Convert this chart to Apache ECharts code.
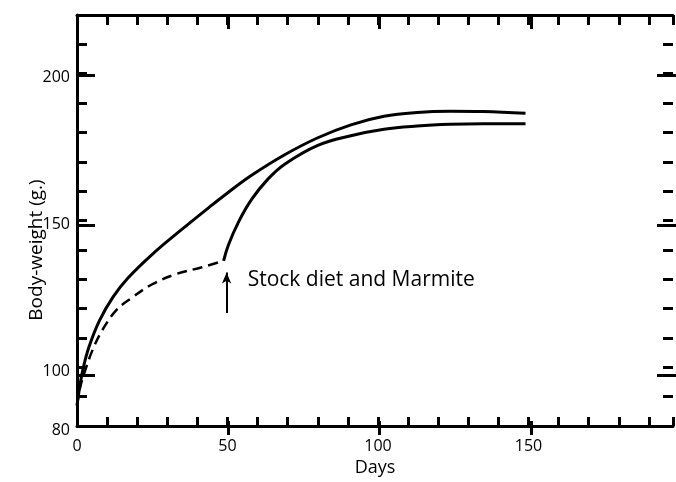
<!DOCTYPE html>
<html><head><meta charset="utf-8">
<script src="https://cdn.jsdelivr.net/npm/echarts@6/dist/echarts.min.js"></script>
<style>html,body{margin:0;padding:0;background:#fff}#c{width:676px;height:482px}</style>
</head><body><div id="c"></div>
<script>
// Control diet (solid, upper curve)
const upperDays   = [0, 1, 2, 4, 7.5, 12, 17, 25, 34, 44, 50, 58, 69, 80, 91, 102, 113, 124, 135, 149];
const upperWeight = [87, 94, 99.5, 107, 116, 124, 130.5, 138.5, 146.3, 154.6, 159.4, 165.4, 172.4, 178.2, 182.6, 185.5, 186.8, 187.2, 187.1, 186.5];
// Deficient diet (dashed) up to day ~49
const dashDays    = [0, 1, 2.5, 5.2, 8.5, 13, 18.5, 25, 32.7, 41.5, 48.7];
const dashWeight  = [87, 93, 98.3, 106, 112.8, 119.4, 123.9, 128.3, 131.7, 134.1, 136.3];
// After change to stock diet and Marmite (solid, lower curve)
const lowerDays   = [48.7, 50.3, 53.6, 58, 63.5, 69, 80, 91, 102, 113, 124, 135, 149];
const lowerWeight = [136.3, 141.7, 149.4, 157.2, 164.2, 169.2, 175.6, 178.9, 181.1, 182.2, 182.8, 183, 183];

const xLabelValues = [0, 50, 100, 150];
const yLabelValues = [80, 100, 150, 200];
const xMajorTicks  = [50, 100, 150];
const yMajorTicks  = [100, 150, 200];

const noteText = 'Stock diet and Marmite';
const arrowDay = 49.7, arrowFrom = 118.5, arrowTo = 132.3;
const noteDay = 56.7, noteWeight = 129.7;

const FONT = '"Open Sans", "DejaVu Sans", sans-serif';
const BLACK = '#000';
const zip = (a, b) => a.map((v, i) => [v, b[i]]);

const gridRect = { left: 77, right: -2, top: 15, bottom: 47 };
const lineAxis = { show: true, onZero: false, lineStyle: { color: BLACK, width: 3 } };
const noLine = { show: false, onZero: false };
const tick = (len, extra) => Object.assign({ show: true, inside: true, length: len, lineStyle: { color: BLACK, width: 3 } }, extra || {});
const lblStyle = { color: BLACK, fontSize: 16, fontWeight: 500, fontFamily: FONT };

const option = {
  animation: false,
  backgroundColor: '#fff',
  grid: [Object.assign({}, gridRect), Object.assign({}, gridRect)],
  xAxis: [
    { gridIndex: 0, type: 'value', position: 'bottom', min: 0, max: 198, interval: 10,
      axisLine: lineAxis, axisTick: tick(9), splitLine: { show: false },
      axisLabel: Object.assign({ margin: 12, formatter: v => xLabelValues.includes(v) ? String(v) : '' }, lblStyle),
      name: 'Days', nameLocation: 'middle', nameGap: 26,
      nameTextStyle: { color: BLACK, fontSize: 18, fontWeight: 500, fontFamily: FONT } },
    { gridIndex: 0, type: 'value', position: 'top', min: 0, max: 198, interval: 10,
      axisLine: lineAxis, axisTick: tick(10), splitLine: { show: false }, axisLabel: { show: false } },
    { gridIndex: 1, type: 'value', position: 'bottom', min: 0, max: 198,
      axisLine: noLine, axisTick: tick(14, { customValues: xMajorTicks }), splitLine: { show: false }, axisLabel: { show: false } },
    { gridIndex: 1, type: 'value', position: 'top', min: 0, max: 198,
      axisLine: noLine, axisTick: tick(14, { customValues: xMajorTicks }), splitLine: { show: false }, axisLabel: { show: false } }
  ],
  yAxis: [
    { gridIndex: 0, type: 'value', position: 'left', min: 80, max: 220, interval: 10,
      axisLine: lineAxis, axisTick: tick(10), splitLine: { show: false },
      axisLabel: Object.assign({ margin: 7, verticalAlign: 'top', lineHeight: 8, formatter: v => yLabelValues.includes(v) ? String(v) : '' }, lblStyle) },
    { gridIndex: 0, type: 'value', position: 'right', min: 80, max: 220, interval: 10,
      axisLine: noLine, axisTick: tick(10), splitLine: { show: false }, axisLabel: { show: false } },
    { gridIndex: 1, type: 'value', position: 'left', min: 80, max: 220,
      axisLine: noLine, axisTick: tick(18, { customValues: yMajorTicks }), splitLine: { show: false }, axisLabel: { show: false } },
    { gridIndex: 1, type: 'value', position: 'right', min: 80, max: 220,
      axisLine: noLine, axisTick: tick(19, { customValues: yMajorTicks }), splitLine: { show: false }, axisLabel: { show: false } }
  ],
  graphic: [
    { type: 'text', x: 37, y: 250, rotation: Math.PI / 2,
      style: { text: 'Body-weight (g.)', font: '500 19px ' + FONT, fill: BLACK, align: 'center', verticalAlign: 'middle' } }
  ],
  series: [
    { type: 'line', xAxisIndex: 0, yAxisIndex: 0, data: zip(upperDays, upperWeight),
      showSymbol: false, smooth: 0.4, lineStyle: { color: BLACK, width: 3 } },
    { type: 'line', xAxisIndex: 0, yAxisIndex: 0, data: zip(dashDays, dashWeight),
      showSymbol: false, smooth: 0.4, lineStyle: { color: BLACK, width: 2.5, type: [10, 6] } },
    { type: 'line', xAxisIndex: 0, yAxisIndex: 0, data: zip(lowerDays, lowerWeight),
      showSymbol: false, smooth: 0.4, lineStyle: { color: BLACK, width: 3 },
      markLine: { silent: true, symbol: ['none', 'arrow'], symbolSize: [7, 11],
        lineStyle: { color: BLACK, width: 2, type: 'solid' }, label: { show: false },
        data: [[{ coord: [arrowDay, arrowFrom] }, { coord: [arrowDay, arrowTo] }]] },
      markPoint: { silent: true, symbol: 'circle', symbolSize: 0,
        label: { show: true, position: 'right', distance: 0, formatter: noteText,
          color: BLACK, fontSize: 21, fontWeight: 500, fontFamily: FONT },
        data: [{ coord: [noteDay, noteWeight] }] } }
  ]
};
echarts.init(document.getElementById('c'), null, { renderer: 'canvas' }).setOption(option);
</script></body></html>
